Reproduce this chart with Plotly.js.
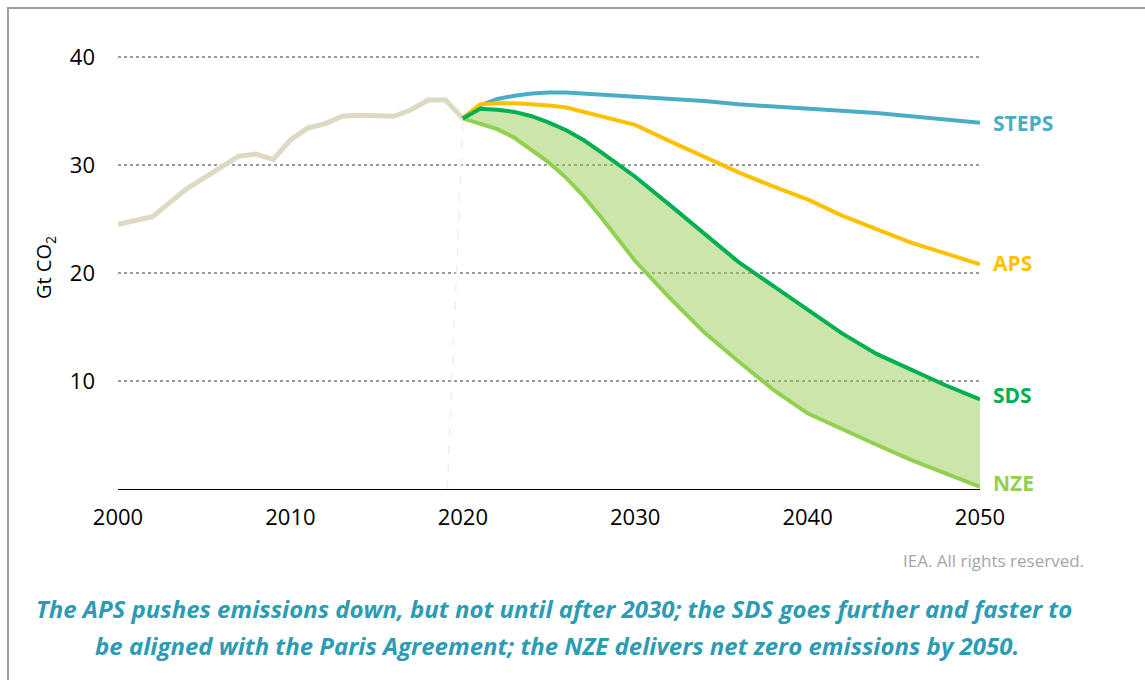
<!DOCTYPE html>
<html>
<head>
<meta charset="utf-8">
<script src="https://cdn.plot.ly/plotly-3.0.1.min.js"></script>
<style>
  html, body { margin: 0; padding: 0; background: #fff; }
  #chart { width: 1145px; height: 680px; }
  #frame { position: absolute; left: 7px; top: 7px; width: 1150px; height: 690px;
           border-top: 2px solid #a0a0a0; border-left: 2px solid #a0a0a0; pointer-events: none; }
</style>
</head>
<body>
<div id="chart"></div>
<div id="frame"></div>
<script>
// Historical emissions (Gt CO2)
const histYears = [2000,2001,2002,2003,2004,2005,2006,2007,2008,2009,2010,2011,2012,2013,2014,2015,2016,2017,2018,2019,2020];
const histValues = [24.5,24.8,25.2,26.5,27.8,28.8,29.8,30.8,31.0,30.5,32.3,33.4,33.8,34.5,34.6,34.5,34.5,35.1,36.0,36.0,34.3];

// Scenario projections
const scenYears = [2020,2021,2022,2023,2024,2025,2026,2027,2028,2029,2030,2032,2034,2036,2038,2040,2042,2044,2046,2048,2050];
const steps = [34.3,35.5,36.1,36.4,36.6,36.7,36.7,36.6,36.5,36.4,36.3,36.1,35.9,35.6,35.4,35.2,35.05,34.8,34.5,34.2,33.9];
const aps   = [34.3,35.6,35.7,35.7,35.6,35.5,35.3,34.9,34.5,34.1,33.7,32.2,30.7,29.3,28.0,26.8,25.3,24.0,22.8,21.8,20.8];
const sds   = [34.3,35.2,35.1,34.9,34.5,33.9,33.2,32.3,31.2,30.1,28.9,26.3,23.6,21.0,18.8,16.6,14.4,12.5,11.0,9.6,8.3];
const nze   = [34.3,33.8,33.3,32.5,31.4,30.2,28.8,27.1,25.2,23.2,21.1,17.7,14.5,11.8,9.2,7.0,5.6,4.1,2.7,1.4,0.2];

const scenarioNames = ["STEPS","APS","SDS","NZE"];
const scenarioColors = ["#4bacc6","#ffc000","#00b050","#92d050"];

const xTicks = [2000,2010,2020,2030,2040,2050];
const yTicks = [10,20,30,40];

// Divider between history and projections
const dividerX = [2020, 2019.1];
const dividerY = [34.0, 0];

const font = "'Open Sans', 'Noto Sans', sans-serif";

const traces = [
  { x: dividerX, y: dividerY, mode: 'lines', line: {color: '#f1f0e4', width: 1.5, dash: 'dash'}, hoverinfo: 'skip' },
  { x: histYears, y: histValues, mode: 'lines', line: {color: '#ddd9c3', width: 5}, name: 'History' },
  { x: scenYears, y: steps, mode: 'lines', line: {color: scenarioColors[0], width: 4}, name: 'STEPS' },
  { x: scenYears, y: aps, mode: 'lines', line: {color: scenarioColors[1], width: 4}, name: 'APS' },
  { x: scenYears, y: nze, mode: 'lines', line: {color: scenarioColors[3], width: 4}, name: 'NZE' },
  { x: scenYears, y: sds, mode: 'lines', line: {color: scenarioColors[2], width: 4}, name: 'SDS',
    fill: 'tonexty', fillcolor: 'rgba(146,200,80,0.48)' }
];

const lastVals = [steps, aps, sds, nze].map(a => a[a.length - 1]);
const yShifts = [0, 1, 4, 4];

const annotations = scenarioNames.map((n, i) => ({
  x: scenYears[scenYears.length - 1], y: lastVals[i], xref: 'x', yref: 'y',
  text: n, showarrow: false, xanchor: 'left', yanchor: 'middle', xshift: 11, yshift: yShifts[i],
  font: {family: font, size: 21, color: scenarioColors[i], weight: 700}
}));

const W = 1145, H = 680, M = {l: 118, r: 165, t: 46, b: 191};
const pw = W - M.l - M.r, ph = H - M.t - M.b;
const px = v => (v - M.l) / pw;
const py = v => (H - M.b - v) / ph;

annotations.push({
  x: px(1086), y: py(560), xref: 'paper', yref: 'paper', text: 'IEA. All rights reserved.', showarrow: false,
  font: {family: font, size: 17, color: '#a6a6a6'}, xanchor: 'right', yanchor: 'middle'
});

const caption1 = 'The APS pushes emissions down, but not until after 2030; the SDS goes further and faster to';
const caption2 = 'be aligned with the Paris Agreement; the NZE delivers net zero emissions by 2050.';
[[caption1, 554, 608], [caption2, 557, 645]].forEach(([t, cx, cy]) => {
  annotations.push({
    x: px(cx), y: py(cy), xref: 'paper', yref: 'paper', text: '<i>' + t + '</i>', showarrow: false,
    xanchor: 'center', yanchor: 'middle',
    font: {family: font, size: 24, color: '#2b9cb3', weight: 700}
  });
});

const layout = {
  width: W, height: H,
  margin: M,
  paper_bgcolor: '#ffffff', plot_bgcolor: '#ffffff',
  showlegend: false,
  font: {family: font, color: '#000'},
  xaxis: {
    range: [2000, 2050], tickvals: xTicks, ticktext: xTicks.map(String),
    showgrid: false, zeroline: false, showline: true, linecolor: '#000', linewidth: 1,
    ticks: '', ticklabelstandoff: 9, tickfont: {family: font, size: 22, color: '#000'}
  },
  yaxis: {
    range: [0, 41], tickvals: yTicks, ticktext: yTicks.map(String),
    showgrid: true, gridcolor: '#9a9a9a', gridwidth: 1.5, griddash: 'dot',
    zeroline: false, showline: false, ticks: '', ticklabelstandoff: 22,
    tickfont: {family: font, size: 22, color: '#000'},
    title: {text: 'Gt CO<sub>2</sub>', font: {family: font, size: 20, color: '#000'}, standoff: 12}
  },
  annotations: annotations
};

Plotly.newPlot('chart', traces, layout, {displayModeBar: false, staticPlot: true});
</script>
</body>
</html>
